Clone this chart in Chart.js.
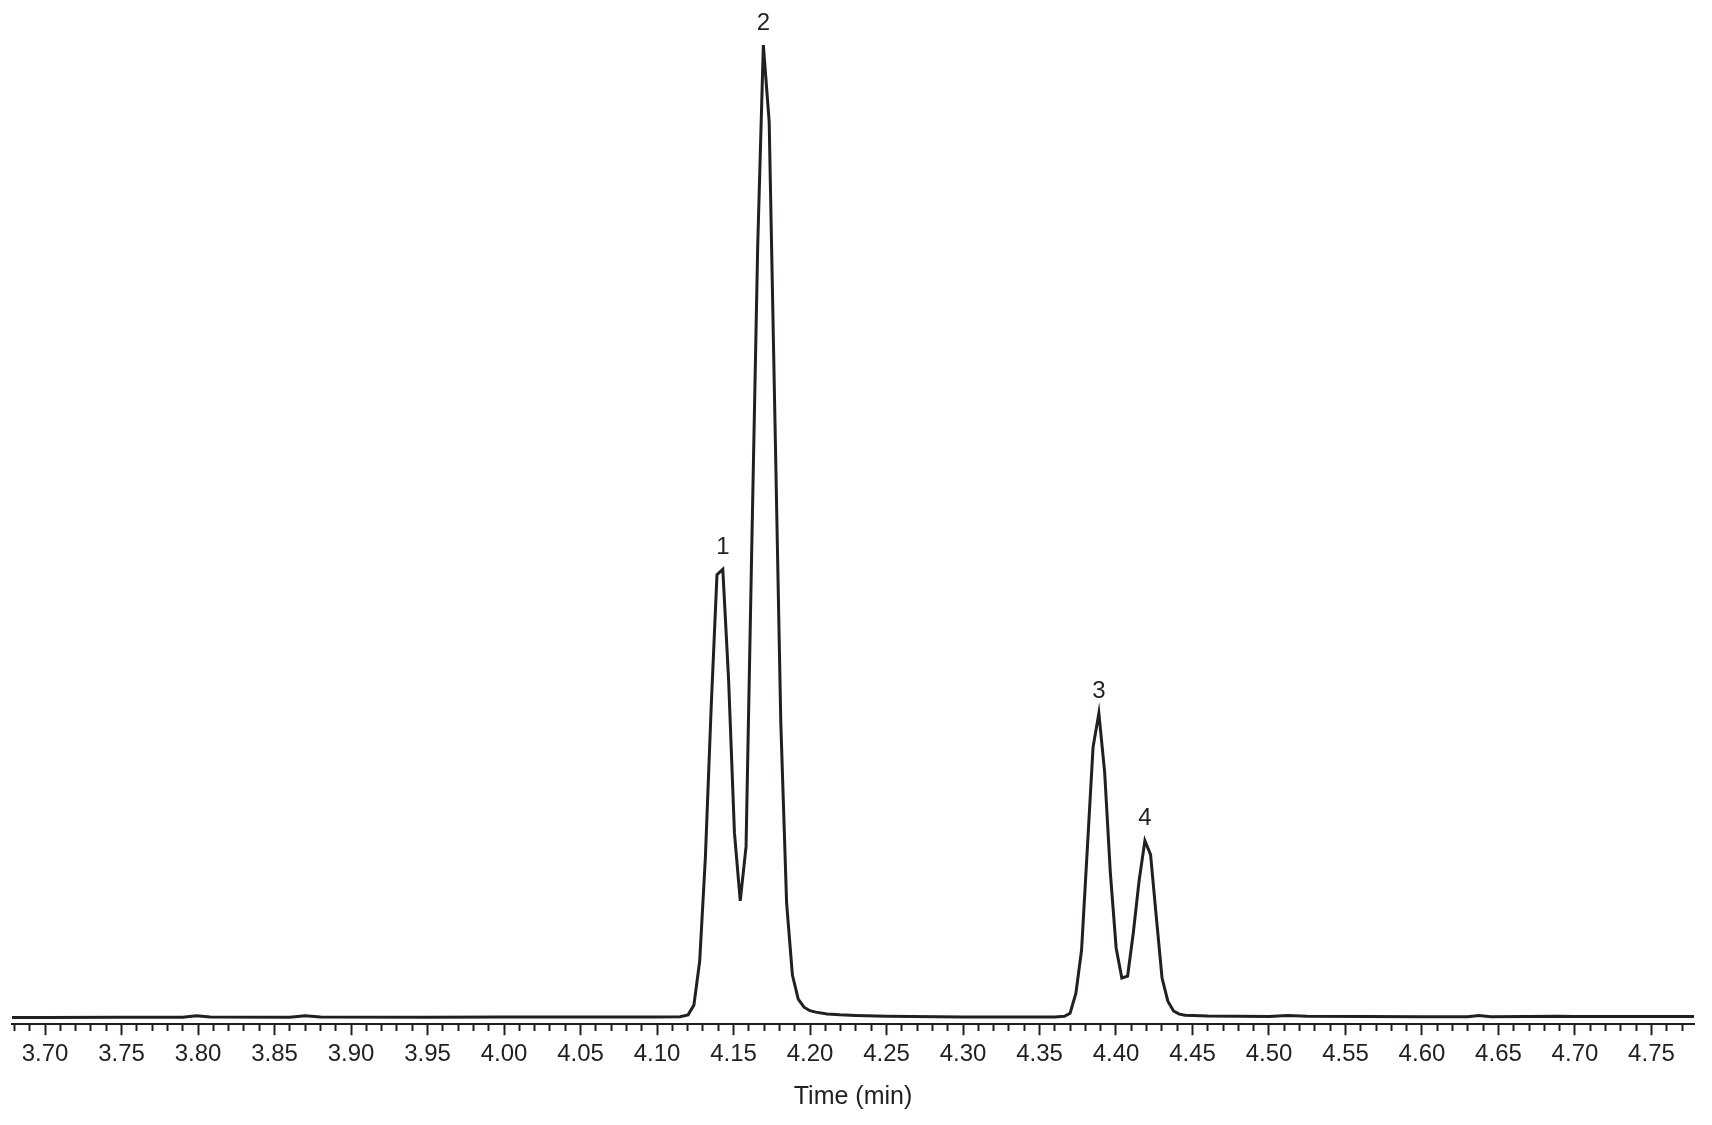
<!DOCTYPE html>
<html>
<head>
<meta charset="utf-8">
<script src="https://cdn.jsdelivr.net/npm/chart.js@4/dist/chart.umd.min.js"></script>
<style>
  html, body { margin: 0; padding: 0; background: #fff; }
  #wrap { width: 1712px; height: 1125px; position: relative; }
</style>
</head>
<body>
<div id="wrap"><canvas id="chrom"></canvas></div>
<script>
const INK = "#231f20";
const FONT = "'Liberation Sans Narrow', 'Liberation Sans', Arial, sans-serif";

// retention time (min) and detector response (peak 2 = 100)
const times = [
  3.6784, 3.700, 3.750, 3.790, 3.799, 3.808, 3.860, 3.870, 3.880, 3.950,
  4.000, 4.050, 4.100, 4.115, 4.1203, 4.1241, 4.1279, 4.1316, 4.1354, 4.1392,
  4.1430, 4.1468, 4.1506, 4.1544, 4.1582, 4.1620, 4.1658, 4.1695, 4.1733, 4.1771,
  4.1809, 4.1847, 4.1885, 4.1923, 4.1961, 4.1999, 4.2037, 4.2112, 4.2195, 4.2300,
  4.2500, 4.3000, 4.3600, 4.3663, 4.3700, 4.3738, 4.3775, 4.3813, 4.3850, 4.3888,
  4.3926, 4.3963, 4.4001, 4.4038, 4.4076, 4.4113, 4.4151, 4.4189, 4.4226, 4.4264,
  4.4301, 4.4339, 4.4377, 4.4414, 4.4452, 4.4600, 4.5000, 4.5120, 4.5250, 4.6000,
  4.6300, 4.6370, 4.6450, 4.6900, 4.7000, 4.7778,
];
const response = [
  0.00, 0.00, 0.02, 0.03, 0.17, 0.05, 0.03, 0.17, 0.04, 0.03,
  0.05, 0.04, 0.04, 0.08, 0.27, 1.27, 5.81, 16.43, 31.91, 45.53,
  46.09, 34.70, 19.01, 12.00, 17.57, 48.94, 79.27, 100.00, 92.16, 61.31,
  30.36, 11.79, 4.36, 1.89, 1.06, 0.70, 0.55, 0.37, 0.27, 0.20,
  0.12, 0.06, 0.06, 0.13, 0.44, 2.51, 6.94, 17.47, 27.78, 31.29,
  25.20, 14.89, 7.15, 4.06, 4.26, 8.69, 14.06, 18.19, 16.74, 10.24,
  4.06, 1.68, 0.65, 0.34, 0.24, 0.16, 0.10, 0.20, 0.12, 0.07,
  0.08, 0.20, 0.08, 0.14, 0.09, 0.10,
];

const peakNames = ["1", "2", "3", "4"];
const peakTimes = [4.1430, 4.1695, 4.3888, 4.4189];

const xMin = 3.6784;
const xMax = 4.7778;
const xStep = 0.01;

function isMajor(v) {
  return Math.round(v * 100) % 5 === 0;
}

const peakLabelPlugin = {
  id: "peakLabels",
  afterDatasetsDraw(chart) {
    const { ctx, scales } = chart;
    ctx.save();
    ctx.fillStyle = INK;
    ctx.font = `24px ${FONT}`;
    ctx.textAlign = "center";
    ctx.textBaseline = "bottom";
    peakNames.forEach((name, i) => {
      const idx = times.indexOf(peakTimes[i]);
      const px = scales.x.getPixelForValue(peakTimes[i]);
      const py = scales.y.getPixelForValue(response[idx]);
      ctx.fillText(name, px, py - 10);
    });
    ctx.restore();
  },
};

new Chart(document.getElementById("chrom"), {
  type: "line",
  data: {
    datasets: [
      {
        data: times.map((t, i) => ({ x: t, y: response[i] })),
        borderColor: INK,
        borderWidth: 3,
        pointRadius: 0,
        tension: 0,
        fill: false,
        clip: false,
      },
    ],
  },
  options: {
    responsive: true,
    maintainAspectRatio: false,
    animation: false,
    layout: { padding: { left: 12, right: 18, top: 20, bottom: 13 } },
    plugins: {
      legend: { display: false },
      tooltip: { enabled: false },
    },
    scales: {
      x: {
        type: "linear",
        min: xMin,
        max: xMax,
        border: { display: true, width: 2, color: INK },
        grid: {
          drawOnChartArea: false,
          drawTicks: true,
          tickLength: 11,
          tickWidth: 2,
          tickColor: INK,
          tickBorderDash: (ctx) => (ctx.tick && isMajor(ctx.tick.value) ? [] : [6, 30]),
        },
        ticks: {
          stepSize: xStep,
          includeBounds: false,
          autoSkip: false,
          maxRotation: 0,
          minRotation: 0,
          padding: 5,
          color: INK,
          font: { family: FONT, size: 24 },
          callback: (v) => (isMajor(v) ? v.toFixed(2) : ""),
        },
        title: {
          display: true,
          text: "Time (min)",
          color: INK,
          font: { family: FONT, size: 25 },
          padding: { top: 8, bottom: 0 },
        },
      },
      y: {
        display: false,
        min: -0.69,
        max: 102.58,
      },
    },
  },
  plugins: [peakLabelPlugin],
});
</script>
</body>
</html>
